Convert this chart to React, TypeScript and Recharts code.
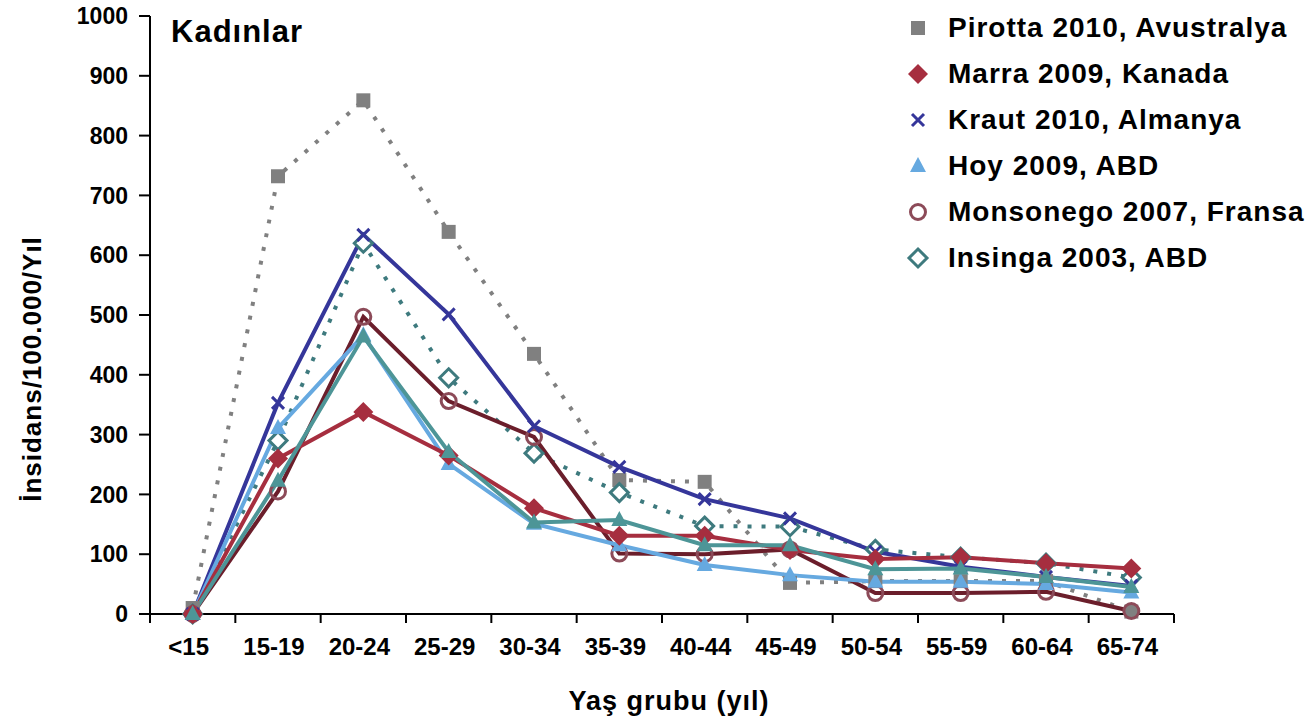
import React from "react";
import { LineChart, Line, XAxis, YAxis, Legend } from "recharts";

// age groups (x axis)
const categories = ["<15", "15-19", "20-24", "25-29", "30-34", "35-39", "40-44", "45-49", "50-54", "55-59", "60-64", "65-74"];

// incidence per 100.000 per year
const pirotta = [10, 732, 859, 639, 435, 224, 221, 52, 55, 55, 55, 4];
const marra = [0, 260, 338, 265, 177, 131, 131, 107, 92, 95, 85, 76];
const kraut = [0, 353, 634, 501, 314, 246, 192, 160, 104, 79, 62, 47];
const hoy = [0, 311, 466, 251, 151, 115, 82, 65, 54, 54, 50, 36];
const monsonego = [0, 205, 497, 356, 296, 101, 100, 108, 35, 35, 37, 5];
const insinga = [0, 290, 620, 395, 269, 203, 147, 146, 108, 95, 85, 61];
// extra teal series drawn in the chart but missing from the legend
const unlabeled = [0, 223, 464, 271, 153, 157, 115, 115, 75, 76, 62, 45];

const yTicks = [0, 100, 200, 300, 400, 500, 600, 700, 800, 900, 1000];

const FONT = '"Liberation Sans", Arial, sans-serif';

type MarkerKind = "square" | "diamond" | "cross" | "triangle" | "circle" | "hollowDiamond";

interface SeriesDef {
  key: string;
  name: string;
  stroke: string;
  markerColor: string;
  marker: MarkerKind;
  dash?: string;
  inLegend: boolean;
  z: number;
}

// legend order; z decides drawing order
const SERIES: SeriesDef[] = [
  { key: "pirotta", name: "Pirotta 2010, Avustralya", stroke: "#808080", markerColor: "#808080", marker: "square", dash: "4 10", inLegend: true, z: 0 },
  { key: "marra", name: "Marra 2009, Kanada", stroke: "#a62e3f", markerColor: "#a62e3f", marker: "diamond", inLegend: true, z: 5 },
  { key: "kraut", name: "Kraut 2010, Almanya", stroke: "#35369a", markerColor: "#35369a", marker: "cross", inLegend: true, z: 3 },
  { key: "hoy", name: "Hoy 2009, ABD", stroke: "#66a9e0", markerColor: "#66a9e0", marker: "triangle", inLegend: true, z: 4 },
  { key: "monsonego", name: "Monsonego 2007, Fransa", stroke: "#6b1e2b", markerColor: "#8c4a58", marker: "circle", inLegend: true, z: 2 },
  { key: "insinga", name: "Insinga 2003, ABD", stroke: "#3e7a7e", markerColor: "#3e7a7e", marker: "hollowDiamond", dash: "4 10", inLegend: true, z: 1 },
  { key: "unlabeled", name: "", stroke: "#4d9597", markerColor: "#4d9597", marker: "triangle", inLegend: false, z: 6 },
];

const values: Record<string, number[]> = { pirotta, marra, kraut, hoy, monsonego, insinga, unlabeled };

const data = categories.map((cat, i) => {
  const row: Record<string, number | string> = { idx: i, cat };
  Object.keys(values).forEach((k) => {
    row[k] = values[k][i];
  });
  return row;
});

const xTicks = [-0.5, ...categories.flatMap((_, i) => [i, i + 0.5])];

function Marker({ kind, cx, cy, color }: { kind: MarkerKind; cx: number; cy: number; color: string }) {
  switch (kind) {
    case "square":
      return <rect x={cx - 7} y={cy - 7} width={14} height={14} fill={color} />;
    case "diamond":
      return <polygon points={`${cx},${cy - 10} ${cx + 10},${cy} ${cx},${cy + 10} ${cx - 10},${cy}`} fill={color} />;
    case "cross":
      return (
        <path
          d={`M${cx - 6},${cy - 6}L${cx + 6},${cy + 6}M${cx + 6},${cy - 6}L${cx - 6},${cy + 6}`}
          stroke={color}
          strokeWidth={3}
        />
      );
    case "triangle":
      return <polygon points={`${cx},${cy - 9} ${cx + 8},${cy + 6} ${cx - 8},${cy + 6}`} fill={color} />;
    case "circle":
      return <circle cx={cx} cy={cy} r={7.5} fill="none" stroke={color} strokeWidth={3} />;
    case "hollowDiamond":
      return (
        <polygon
          points={`${cx},${cy - 9} ${cx + 9},${cy} ${cx},${cy + 9} ${cx - 9},${cy}`}
          fill="#ffffff"
          stroke={color}
          strokeWidth={3}
        />
      );
  }
  return null;
}

const XTick = (props: any) => {
  const { x, y, payload } = props;
  const v = payload.value as number;
  if (!Number.isInteger(v)) {
    return <line x1={x} x2={x} y1={y} y2={y + 9} stroke="#000" strokeWidth={2} />;
  }
  return (
    <text x={x - 4} y={y + 41} textAnchor="middle" fontSize={24} fontWeight="bold" fontFamily={FONT} fill="#000">
      {categories[v]}
    </text>
  );
};

const LegendBox = () => (
  <div style={{ fontFamily: FONT, fontWeight: "bold", fontSize: 28, letterSpacing: 1, color: "#000" }}>
    {SERIES.filter((s) => s.inLegend).map((s) => (
      <div key={s.key} style={{ display: "flex", alignItems: "center", height: 46 }}>
        <svg width={30} height={30} style={{ marginRight: 15 }}>
          <Marker kind={s.marker} cx={15} cy={15} color={s.markerColor} />
        </svg>
        <span style={{ whiteSpace: "nowrap" }}>{s.name}</span>
      </div>
    ))}
  </div>
);

export default function App() {
  const drawOrder = [...SERIES].sort((a, b) => a.z - b.z);
  return (
    <div style={{ position: "absolute", left: 0, top: 0, width: 1314, height: 726, background: "#fff" }}>
      <LineChart width={1314} height={726} data={data} margin={{ top: 16, right: 140, bottom: 0, left: 0 }}>
        <XAxis
          dataKey="idx"
          type="number"
          domain={[-0.5, 11.5]}
          ticks={xTicks}
          interval={0}
          tickSize={0}
          tickMargin={0}
          tickLine={false}
          tick={<XTick />}
          height={112}
          axisLine={{ stroke: "#000", strokeWidth: 2 }}
          label={{
            content: () => (
              <text x={669} y={710} textAnchor="middle" fontSize={27} letterSpacing={1} fontWeight="bold" fontFamily={FONT} fill="#000">
                Yaş grubu (yıl)
              </text>
            ),
          }}
        />
        <YAxis
          type="number"
          domain={[0, 1000]}
          ticks={yTicks}
          interval={0}
          width={150}
          tickSize={11}
          tickMargin={11}
          axisLine={{ stroke: "#000", strokeWidth: 2 }}
          tickLine={{ stroke: "#000", strokeWidth: 2 }}
          tick={{ fontSize: 23, fontWeight: "bold", fontFamily: FONT, fill: "#000" }}
          label={{
            content: () => (
              <text
                x={41}
                y={369}
                transform="rotate(-90, 41, 369)"
                textAnchor="middle"
                fontSize={26}
                letterSpacing={1}
                fontWeight="bold"
                fontFamily={FONT}
                fill="#000"
              >
                İnsidans/100.000/Yıl
              </text>
            ),
          }}
        />
        <Legend
          layout="vertical"
          align="center"
          verticalAlign="middle"
          content={<LegendBox />}
          wrapperStyle={{ top: 5, left: 903, width: 411 }}
        />
        {drawOrder.map((s) => (
          <Line
            key={s.key}
            dataKey={s.key}
            name={s.name}
            type="linear"
            stroke={s.stroke}
            strokeWidth={4}
            strokeDasharray={s.dash}
            strokeLinecap={s.dash ? "butt" : "round"}
            isAnimationActive={false}
            activeDot={false}
            legendType={s.inLegend ? "line" : "none"}
            dot={(p: any) => (
              <Marker key={`${s.key}-${p.index}`} kind={s.marker} cx={p.cx} cy={p.cy} color={s.markerColor} />
            )}
          />
        ))}
      </LineChart>
      <div
        style={{
          position: "absolute",
          left: 171,
          top: 14,
          fontFamily: FONT,
          fontWeight: "bold",
          fontSize: 31,
          letterSpacing: 1,
          color: "#000",
          lineHeight: "36px",
        }}
      >
        Kadınlar
      </div>
    </div>
  );
}
